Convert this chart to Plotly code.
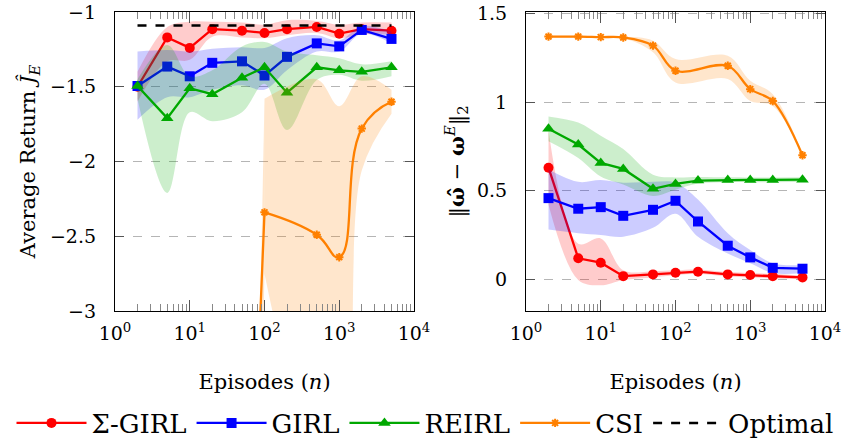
import plotly.graph_objects as go

# ---------------- data ----------------
episodes = [2, 5, 10, 20, 50, 100, 200, 500, 1000, 2000, 5000]
csi_episodes = [2, 5, 10, 20, 50, 100, 500, 1000, 2000, 5000]

# Left: average return
sgirl_ret = [-1.50, -1.17, -1.24, -1.115, -1.125, -1.14, -1.115, -1.10, -1.145, -1.115, -1.125]
sgirl_ret_hi = [-1.40, -1.10, -1.065, -1.065, -1.07, -1.085, -1.055, -1.06, -1.085, -1.07, -1.07]
sgirl_ret_lo = [-1.60, -1.33, -1.32, -1.165, -1.17, -1.175, -1.155, -1.14, -1.175, -1.15, -1.15]

girl_ret = [-1.495, -1.365, -1.43, -1.34, -1.33, -1.425, -1.30, -1.21, -1.23, -1.12, -1.18]
girl_ret_hi = [-1.265, -1.255, -1.265, -1.245, -1.235, -1.24, -1.175, -1.155, -1.19, -1.095, -1.13]
girl_ret_lo = [-1.72, -1.57, -1.57, -1.52, -1.49, -1.52, -1.39, -1.265, -1.265, -1.145, -1.21]

reirl_ret = [-1.495, -1.71, -1.51, -1.55, -1.44, -1.37, -1.54, -1.37, -1.39, -1.40, -1.37]
reirl_ret_hi = [-1.45, -1.22, -1.43, -1.39, -1.23, -1.20, -1.265, -1.29, -1.31, -1.35, -1.33]
reirl_ret_lo = [-1.58, -2.21, -1.67, -1.73, -1.67, -1.48, -1.79, -1.455, -1.42, -1.46, -1.43]

# CSI returns for n <= 50 lie far below the visible range (estimated)
csi_ret = [-6.0, -6.0, -6.0, -6.0, -6.0, -2.34, -2.49, -2.64, -1.78, -1.60]
csi_ret_hi = [-9.0, -9.0, -9.0, -9.0, -9.0, -1.58, -1.45, -1.63, -1.43, -1.52]
csi_ret_lo = [-9.5, -9.5, -9.5, -9.5, -9.5, -2.75, -3.9, -3.9, -2.06, -1.68]

optimal_ret = -1.09

# Right: weight error
sgirl_err = [0.63, 0.118, 0.093, 0.017, 0.027, 0.036, 0.042, 0.027, 0.023, 0.017, 0.01]
sgirl_err_hi = [0.84, 0.20, 0.23, 0.05, 0.045, 0.05, 0.055, 0.04, 0.035, 0.03, 0.02]
sgirl_err_lo = [0.42, -0.005, -0.035, -0.005, 0.01, 0.022, 0.03, 0.015, 0.01, 0.005, 0.0]

girl_err = [0.458, 0.398, 0.407, 0.358, 0.392, 0.443, 0.326, 0.189, 0.123, 0.064, 0.059]
girl_err_hi = [0.62, 0.55, 0.56, 0.545, 0.55, 0.545, 0.45, 0.26, 0.165, 0.09, 0.08]
girl_err_lo = [0.28, 0.26, 0.25, 0.24, 0.29, 0.37, 0.24, 0.145, 0.09, 0.035, 0.035]

reirl_err = [0.85, 0.761, 0.657, 0.623, 0.511, 0.538, 0.557, 0.561, 0.561, 0.561, 0.5625]
reirl_err_hi = [0.92, 0.885, 0.81, 0.735, 0.59, 0.575, 0.578, 0.576, 0.575, 0.575, 0.576]
reirl_err_lo = [0.78, 0.685, 0.58, 0.535, 0.47, 0.505, 0.54, 0.548, 0.548, 0.548, 0.55]

csi_err = [1.371, 1.371, 1.368, 1.366, 1.32, 1.178, 1.206, 1.074, 1.007, 0.70]
csi_err_hi = [1.376, 1.376, 1.373, 1.371, 1.348, 1.244, 1.263, 1.121, 1.045, 0.705]
csi_err_lo = [1.366, 1.366, 1.363, 1.361, 1.282, 1.112, 1.131, 1.007, 0.979, 0.695]

x_tick_vals = [1, 10, 100, 1000, 10000]
x_tick_text = ["10<sup>0</sup>", "10<sup>1</sup>", "10<sup>2</sup>", "10<sup>3</sup>", "10<sup>4</sup>"]
left_y_ticks = [-3, -2.5, -2, -1.5, -1]
right_y_ticks = [0, 0.5, 1, 1.5]

names = ["Σ-GIRL", "GIRL", "REIRL", "CSI"]
colors = ["#ff0000", "#0000ff", "#00a800", "#ff8000"]
fills = ["rgba(255,0,0,0.2)", "rgba(0,0,255,0.2)", "rgba(0,168,0,0.2)", "rgba(255,128,0,0.2)"]
symbols = ["circle", "square", "triangle-up", "asterisk-open"]
msizes = [10, 10, 11, 7]

FONT = "DejaVu Serif"
W, H = 842, 438


def px_x(p):
    return p / W


def px_y(p):
    return 1 - p / H


fig = go.Figure()


def marker_for(i):
    mk = dict(symbol=symbols[i], size=msizes[i], color=colors[i])
    if symbols[i] == "asterisk-open":
        mk["line"] = dict(color=colors[i], width=2)
    return mk


def add_band(i, x, lo, hi, xa, ya, shape="spline"):
    fig.add_trace(go.Scatter(x=x, y=lo, mode="lines", line=dict(width=0, shape=shape, smoothing=1.0),
                             xaxis=xa, yaxis=ya, showlegend=False, hoverinfo="skip"))
    fig.add_trace(go.Scatter(x=x, y=hi, mode="lines", line=dict(width=0, shape=shape, smoothing=1.0),
                             fill="tonexty", fillcolor=fills[i],
                             xaxis=xa, yaxis=ya, showlegend=False, hoverinfo="skip"))


def add_line(i, x, y, xa, ya, showlegend, shape="linear", smoothing=1.0):
    fig.add_trace(go.Scatter(x=x, y=y, mode="lines+markers", name=names[i],
                             line=dict(color=colors[i], width=2.3, shape=shape, smoothing=smoothing),
                             marker=marker_for(i), xaxis=xa, yaxis=ya,
                             showlegend=showlegend, legendgroup=names[i]))


left = [(sgirl_ret, sgirl_ret_lo, sgirl_ret_hi), (girl_ret, girl_ret_lo, girl_ret_hi),
        (reirl_ret, reirl_ret_lo, reirl_ret_hi)]
right = [(sgirl_err, sgirl_err_lo, sgirl_err_hi), (girl_err, girl_err_lo, girl_err_hi),
         (reirl_err, reirl_err_lo, reirl_err_hi), (csi_err, csi_err_lo, csi_err_hi)]

# ---- left panel ----
for i, (m, lo, hi) in enumerate(left):
    add_band(i, episodes, lo, hi, "x", "y")
    add_line(i, episodes, m, "x", "y", True)

# CSI (left): the steep entry from below the axis is straight, the rest smooth
k = csi_episodes.index(100)
add_band(3, csi_episodes[:k + 1], csi_ret_lo[:k + 1], csi_ret_hi[:k + 1], "x", "y", shape="linear")
add_band(3, csi_episodes[k:], csi_ret_lo[k:], csi_ret_hi[k:], "x", "y", shape="spline")
fig.add_trace(go.Scatter(x=csi_episodes[:k + 1], y=csi_ret[:k + 1], mode="lines",
                         line=dict(color=colors[3], width=2.3), xaxis="x", yaxis="y",
                         showlegend=False, hoverinfo="skip"))
add_line(3, csi_episodes[k:], csi_ret[k:], "x", "y", True, shape="spline", smoothing=1.3)

fig.add_trace(go.Scatter(x=[episodes[0], episodes[-1]], y=[optimal_ret, optimal_ret], mode="lines",
                         name="Optimal", line=dict(color="black", width=2.5, dash="dash"),
                         xaxis="x", yaxis="y", showlegend=True))

# ---- right panel ----
for i, (m, lo, hi) in enumerate(right):
    xs = csi_episodes if i == 3 else episodes
    add_band(i, xs, lo, hi, "x2", "y2")
    add_line(i, xs, m, "x2", "y2", False, shape="spline" if i == 3 else "linear", smoothing=1.0)

xcommon = dict(type="log", range=[0, 4], tickmode="array", tickvals=x_tick_vals, ticktext=x_tick_text,
               ticks="inside", ticklen=11, tickwidth=1, tickcolor="#555555",
               minor=dict(ticks="inside", ticklen=7, tickcolor="#888888", dtick="D1", showgrid=False),
               showline=True, linecolor="black", linewidth=1.2, mirror="allticks",
               showgrid=False, zeroline=False, automargin=False, ticklabelstandoff=5,
               ticklabeloverflow="allow",
               tickfont=dict(family=FONT, size=19, color="black"),
               title=dict(text="Episodes (<i>n</i>)", font=dict(family=FONT, size=21, color="black"), standoff=31))
ycommon = dict(ticks="inside", ticklen=9, tickwidth=1, tickcolor="#555555",
               showline=True, linecolor="black", linewidth=1.2, mirror="allticks",
               showgrid=True, gridcolor="#b5b5b5", griddash="dash", gridwidth=1, zeroline=False,
               automargin=False, ticklabelstandoff=14, ticklabeloverflow="allow",
               tickfont=dict(family=FONT, size=19, color="black"))

fig.update_layout(
    width=W, height=H,
    margin=dict(l=0, r=0, t=0, b=0, autoexpand=False),
    paper_bgcolor="white", plot_bgcolor="white",
    xaxis=dict(domain=[px_x(115), px_x(414)], anchor="y", **xcommon),
    xaxis2=dict(domain=[px_x(526), px_x(825)], anchor="y2", **xcommon),
    yaxis=dict(domain=[px_y(311), px_y(12)], anchor="x", range=[-3, -1],
               tickmode="array", tickvals=left_y_ticks, ticktext=["−3", "−2.5", "−2", "−1.5", "−1"],
               title=dict(text="Average Return <i>Ĵ<sub>E</sub></i>", font=dict(family=FONT, size=21, color="black"),
                          standoff=8),
               **ycommon),
    yaxis2=dict(domain=[px_y(311), px_y(12)], anchor="x2", range=[-0.18, 1.51],
                tickmode="array", tickvals=right_y_ticks, ticktext=["0", "0.5", "1", "1.5"],
                title=dict(text="‖<b>ω̂</b> − <b>ω</b><sup><i>E</i></sup>‖<sub>2</sub>",
                           font=dict(family=FONT, size=21, color="black"), standoff=6),
                **ycommon),
    legend=dict(orientation="h", x=px_x(425), xanchor="center", y=px_y(423), yanchor="middle",
                font=dict(family=FONT, size=26, color="black"), bgcolor="rgba(0,0,0,0)",
                itemwidth=70, tracegroupgap=0),
    showlegend=True,
)

fig.write_html("out.html",
               config={"displayModeBar": False},
               post_script="document.body.style.margin='0px';document.body.style.overflow='hidden';")
